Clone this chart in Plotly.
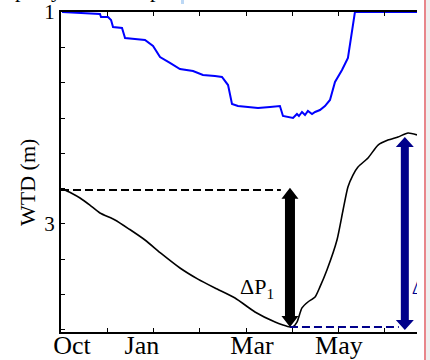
import plotly.graph_objects as go

# ---------------- data (days since 1 Oct, WTD in m) ----------------
black_days = [2.6, 7.0, 12.5, 19.0, 25.6, 35.5, 45.0, 55.2, 66.0, 78.2, 90.0, 101.2, 114.4,
              127.5, 140.7, 145.9, 150.5, 152.5, 155.1, 158.4, 162.3, 167.0, 170.2, 174.8,
              181.4, 185.4, 188.6, 191.9, 195.2, 201.8, 208.4, 214.9, 221.5, 228.1, 234.0]
black_wtd = [2.679, 2.710, 2.755, 2.822, 2.896, 2.962, 3.050, 3.151, 3.280, 3.415, 3.520, 3.604,
             3.698, 3.830, 3.925, 3.953, 3.972, 3.970, 3.925, 3.792, 3.736, 3.689, 3.594, 3.434,
             3.151, 2.868, 2.651, 2.538, 2.462, 2.377, 2.255, 2.208, 2.179, 2.142, 2.160]

blue_days = [0.7, 12.5, 25.6, 26.3, 30.9, 32.9, 34.2, 40.1, 42.1, 48.6, 55.2, 60.5, 65.1, 71.6,
             78.2, 86.8, 93.3, 101.2, 105.8, 109.8, 112.4, 116.3, 129.5, 137.4, 143.9, 145.9,
             152.5, 155.1, 156.4, 158.4, 160.4, 162.3, 165.0, 167.0, 170.2, 173.5, 176.8,
             180.1, 184.7, 188.6, 191.3, 193.2, 234.0]
blue_wtd = [1.000, 1.009, 1.019, 1.047, 1.047, 1.075, 1.142, 1.151, 1.245, 1.255, 1.264, 1.321,
            1.425, 1.481, 1.538, 1.557, 1.594, 1.604, 1.613, 1.689, 1.868, 1.887, 1.906, 1.896,
            1.887, 1.981, 2.000, 1.962, 1.981, 1.943, 1.972, 1.934, 1.962, 1.943, 1.925, 1.887,
            1.830, 1.660, 1.547, 1.434, 1.170, 1.000, 1.000]

month_ticks = [0, 30.4, 60.8, 91.2, 121.6, 152.0, 182.4, 212.8]
label_days = [7.2, 53.2, 125.5, 182.7]
label_text = ["Oct", "Jan", "Mar", "May"]
y_ticks = [1, 4/3, 5/3, 2, 7/3, 8/3, 3, 10/3, 11/3, 4]
y_text = ["1", "", "", "", "", "", "3", "", "", ""]

arrow2_top = 2.18
arrow2_bottom = 4.0
arrow2_day = 226.0
dash2_end = 222.0

X_RANGE = [0, 234.0]
Y_RANGE = [4.019, 1.0]

SERIF = "Liberation Serif, Times New Roman, serif"
NAVY = "#00008b"

# pixel -> data conversion (plot area is 356 x 320 px)
DX = (X_RANGE[1] - X_RANGE[0]) / 356.0
DY = (Y_RANGE[0] - Y_RANGE[1]) / 320.0


def arrow_path(xc, y_top, y_bot, shaft_px, head_w_px, head_h_px):
    sw = shaft_px * DX / 2
    hw = head_w_px * DX / 2
    hh = head_h_px * DY
    pts = [(xc - sw, y_top + hh), (xc - hw, y_top + hh), (xc, y_top), (xc + hw, y_top + hh),
           (xc + sw, y_top + hh), (xc + sw, y_bot - hh), (xc + hw, y_bot - hh), (xc, y_bot),
           (xc - hw, y_bot - hh), (xc - sw, y_bot - hh)]
    return "M " + " L ".join(f"{a:.4f},{b:.4f}" for a, b in pts) + " Z"


start_val = black_wtd[0]
min_idx = black_wtd.index(max(black_wtd))
min_day = black_days[min_idx]
min_val = black_wtd[min_idx]

fig = go.Figure()

fig.add_trace(go.Scatter(x=blue_days, y=blue_wtd, mode="lines",
                         line=dict(color="#0000ff", width=2), cliponaxis=False,
                         showlegend=False, hoverinfo="skip"))
fig.add_trace(go.Scatter(x=black_days, y=black_wtd, mode="lines",
                         line=dict(color="black", width=1.6, shape="spline", smoothing=0.6),
                         showlegend=False, hoverinfo="skip"))
fig.add_trace(go.Scatter(x=[X_RANGE[0], min_day - 6], y=[start_val, start_val], mode="lines",
                         line=dict(color="black", width=2, dash="8px,4px"),
                         cliponaxis=False, showlegend=False, hoverinfo="skip"))
fig.add_trace(go.Scatter(x=[min_day, dash2_end], y=[min_val, min_val], mode="lines",
                         line=dict(color=NAVY, width=2, dash="8px,4px"),
                         showlegend=False, hoverinfo="skip"))
# clipped second label
fig.add_trace(go.Scatter(x=[230.5], y=[3.61], mode="text", text=["ΔP<sub>2</sub>"],
                         textposition="middle right",
                         textfont=dict(family=SERIF, size=22, color=NAVY),
                         cliponaxis=True, showlegend=False, hoverinfo="skip"))
# helper (empty) traces for the overlay axes
fig.add_trace(go.Scatter(x=[], y=[], xaxis="x2", showlegend=False))
fig.add_trace(go.Scatter(x=[], y=[], xaxis="x3", showlegend=False))

fig.add_shape(type="path", path=arrow_path(min_day, start_val - 0.02, min_val, 10, 17, 11),
              fillcolor="black", line=dict(width=0), layer="above")
fig.add_shape(type="path", path=arrow_path(arrow2_day, arrow2_top, arrow2_bottom, 8, 18, 10),
              fillcolor=NAVY, line=dict(width=0), layer="above")

# frame artefacts of the cropped figure
fig.add_shape(type="rect", xref="paper", yref="paper", x0=(426 - 61) / 356, x1=(440 - 61) / 356,
              y0=-0.2, y1=1.2, fillcolor="#efefef", line=dict(width=0), layer="above")
fig.add_shape(type="line", xref="paper", yref="paper", x0=(425 - 61) / 356, x1=(425 - 61) / 356,
              y0=-0.2, y1=1.2, line=dict(color="#d9363e", width=1.2), layer="above")
fig.add_shape(type="rect", xref="paper", yref="paper", x0=(181 - 61) / 356, x1=(184 - 61) / 356,
              y0=(332 - 4) / 320, y1=1.1, fillcolor="#bcd8f5", line=dict(width=0), layer="above")

fig.add_annotation(x=128.8, y=3.60, xref="x", yref="y", text="ΔP<sub>1</sub>", showarrow=False,
                   font=dict(family=SERIF, size=22, color="black"))
fig.add_annotation(x=(27 - 61) / 356, y=(332 - 183) / 320, xref="paper", yref="paper",
                   text="WTD (m)", textangle=-90, showarrow=False,
                   xanchor="center", yanchor="middle",
                   font=dict(family=SERIF, size=22, color="black"))
for px, t in [(20, "p"), (56, "y"), (155, "p")]:
    fig.add_annotation(x=(px - 61) / 356, y=(332 + 11) / 320, xref="paper", yref="paper",
                       text=t, showarrow=False, xanchor="center", yanchor="middle",
                       font=dict(family=SERIF, size=22, color="black"))

axis_common = dict(range=X_RANGE, showgrid=False, zeroline=False, automargin=False)
fig.update_layout(
    width=430, height=360,
    margin=dict(l=61, r=13, t=12, b=28, autoexpand=False),
    paper_bgcolor="white", plot_bgcolor="white",
    font=dict(family=SERIF, color="black"),
    xaxis=dict(**axis_common, showline=True, linewidth=2, linecolor="black",
               ticks="inside", ticklen=4, tickwidth=1.2, tickcolor="black",
               tickvals=month_ticks, showticklabels=False),
    xaxis2=dict(**axis_common, overlaying="x", side="top", anchor="y", showline=True,
                linewidth=2, linecolor="black", ticks="inside", ticklen=4, tickwidth=1.2,
                tickcolor="black", tickvals=month_ticks, showticklabels=False),
    xaxis3=dict(**axis_common, overlaying="x", side="bottom", anchor="free", position=0.016,
                showline=False, ticks="", tickvals=label_days, ticktext=label_text,
                tickfont=dict(family=SERIF, size=26, color="black")),
    yaxis=dict(range=Y_RANGE, showgrid=False, zeroline=False, automargin=False, showline=True,
               linewidth=2, linecolor="black", ticks="inside", ticklen=4, tickwidth=1.2,
               tickcolor="black", tickvals=y_ticks, ticktext=y_text,
               tickfont=dict(family=SERIF, size=21, color="black")),
)

fig.write_html("out.html")
